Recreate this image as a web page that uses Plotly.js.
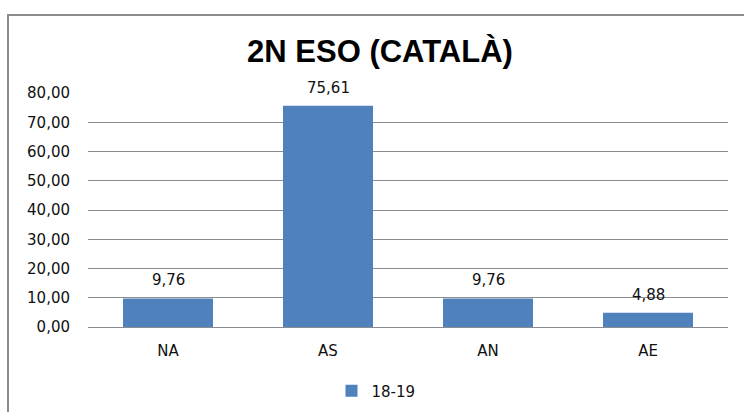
<!DOCTYPE html>
<html><head><meta charset="utf-8">
<script src="https://cdn.plot.ly/plotly-3.0.1.min.js"></script>
<style>
html,body{margin:0;padding:0;background:#fff;overflow:hidden;}
#chart{width:744px;height:412px;}
#frame{position:absolute;left:7px;top:14px;width:800px;height:500px;border:2px solid #8c8c8c;pointer-events:none;box-sizing:border-box;}
</style></head>
<body>
<div id="chart"></div>
<div id="frame"></div>
<script>
const categories = ["NA", "AS", "AN", "AE"];
const values = [9.76, 75.61, 9.76, 4.88];
const seriesName = "18-19";
const yTicks = [0, 10, 20, 30, 40, 50, 60, 70, 80];
const titleText = "2N ESO (CATALÀ)";

const fmt = v => v.toFixed(2).replace(".", ",");
const FONT = "DejaVu Sans, Verdana, sans-serif";

const trace = {
  type: "bar",
  x: categories,
  y: values,
  name: seriesName,
  marker: {color: "#4F81BD"},
  showlegend: true,
  hoverinfo: "none"
};

const annotations = categories.map((c, i) => ({
  x: c, y: values[i], xref: "x", yref: "y",
  text: fmt(values[i]), showarrow: false,
  yanchor: "bottom", yshift: 7,
  font: {family: FONT, size: 15, color: "#111"}
}));

const layout = {
  width: 744, height: 412,
  margin: {l: 88, r: 16, t: 93, b: 85},
  paper_bgcolor: "#fff", plot_bgcolor: "#fff",
  separators: ",.",
  bargap: 0.4375,
  title: {
    text: "<b>" + titleText + "</b>",
    font: {family: "Liberation Sans, Arial, sans-serif", size: 31, color: "#000"},
    x: 380/744, xanchor: "center", xref: "container",
    y: 1 - 51/412, yanchor: "middle", yref: "container"
  },
  xaxis: {
    type: "category",
    showgrid: false, zeroline: false,
    showline: false,
    ticks: "",
    ticklabelstandoff: 13,
    tickfont: {family: FONT, size: 15, color: "#111"}
  },
  yaxis: {
    range: [0, 80],
    tickvals: yTicks,
    ticktext: yTicks.map(fmt),
    showgrid: true, gridcolor: "#8c8c8c", gridwidth: 1,
    zeroline: true, zerolinecolor: "#8c8c8c", zerolinewidth: 1,
    showline: false, ticks: "",
    ticklabelstandoff: 17,
    tickfont: {family: FONT, size: 15, color: "#111"}
  },
  legend: {
    orientation: "h", x: 376/744, xanchor: "center", xref: "container",
    y: 21/412, yanchor: "middle", yref: "container",
    font: {family: FONT, size: 15, color: "#111"},
    itemwidth: 30
  },
  annotations: annotations
};

Plotly.newPlot("chart", [trace], layout, {staticPlot: true, displayModeBar: false});
</script>
</body></html>
